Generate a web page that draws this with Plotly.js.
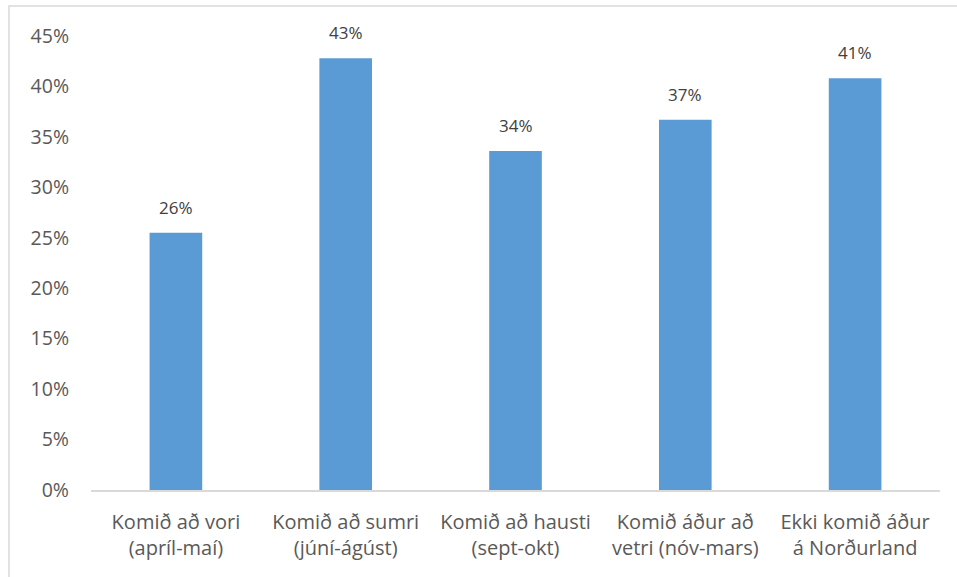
<!DOCTYPE html>
<html>
<head>
<meta charset="utf-8">
<script src="https://cdn.plot.ly/plotly-3.0.1.min.js"></script>
<style>html,body{margin:0;padding:0;background:#fff;}#chart{width:957px;height:577px;}</style>
</head>
<body>
<div id="chart"></div>
<script>
const categories = [
  "Komið að vori<br>(apríl-maí)",
  "Komið að sumri<br>(júní-ágúst)",
  "Komið að hausti<br>(sept-okt)",
  "Komið áður að<br>vetri (nóv-mars)",
  "Ekki komið áður<br>á Norðurland"
];
const values = [0.255, 0.428, 0.336, 0.367, 0.408];
const labels = ["26%", "43%", "34%", "37%", "41%"];
const yTicks = [0, 0.05, 0.10, 0.15, 0.20, 0.25, 0.30, 0.35, 0.40, 0.45];
const yTickText = ["0%", "5%", "10%", "15%", "20%", "25%", "30%", "35%", "40%", "45%"];

const W = 957, H = 577, L = 91, R = 17, T = 36, B = 87;
const pw = W - L - R, ph = H - T - B;

const annotations = categories.map((c, i) => ({
  x: c, y: values[i], xref: "x", yref: "y",
  text: labels[i], showarrow: false, yanchor: "bottom", yshift: 12,
  font: {family: "Open Sans, sans-serif", size: 17, color: "#404040"}
}));

Plotly.newPlot("chart", [{
  type: "bar",
  x: categories,
  y: values,
  marker: {color: "#5B9BD5"},
  width: 0.31,
  hoverinfo: "none"
}], {
  width: W, height: H,
  margin: {l: L, r: R, t: T, b: B},
  paper_bgcolor: "#fff",
  plot_bgcolor: "#fff",
  showlegend: false,
  font: {family: "Open Sans, sans-serif", color: "#595959"},
  xaxis: {
    showgrid: false, showline: true, linecolor: "#d9d9d9", linewidth: 2,
    ticks: "", tickfont: {size: 20, color: "#595959"}, ticklabelstandoff: 13, fixedrange: true
  },
  yaxis: {
    range: [0, 0.45], tickvals: yTicks, ticktext: yTickText,
    showgrid: false, zeroline: false, showline: false, ticks: "",
    tickfont: {size: 19.5, color: "#595959"}, ticklabelstandoff: 21, fixedrange: true
  },
  annotations: annotations,
  shapes: [{
    type: "rect", xref: "paper", yref: "paper",
    x0: (9 - L) / pw, x1: 1.2, y0: -0.3, y1: (H - B - 6) / ph,
    line: {color: "#d9d9d9", width: 1.5}, fillcolor: "rgba(0,0,0,0)", layer: "below"
  }]
}, {staticPlot: true, displayModeBar: false});
</script>
</body>
</html>
